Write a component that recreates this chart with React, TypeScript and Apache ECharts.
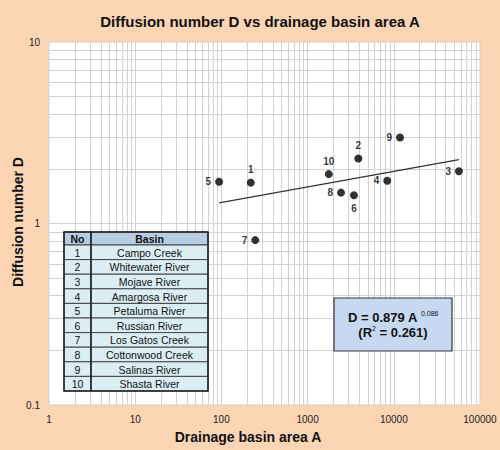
import React, { useEffect, useRef } from "react";
import * as echarts from "echarts";

const basinNo = [1, 2, 3, 4, 5, 6, 7, 8, 9, 10];
const basinNames = [
  "Campo Creek",
  "Whitewater River",
  "Mojave River",
  "Amargosa River",
  "Petaluma River",
  "Russian River",
  "Los Gatos Creek",
  "Cottonwood Creek",
  "Salinas River",
  "Shasta River",
];
const areaA = [219, 3875, 57000, 8400, 94, 3450, 247, 2440, 11800, 1760];
const diffD = [1.68, 2.28, 1.94, 1.72, 1.7, 1.43, 0.81, 1.48, 2.98, 1.87];
const labelPos = ["top", "top", "left", "left", "left", "bottom", "left", "left", "left", "top"];
const trendA = [94, 57000];
const trendD = [1.3, 2.25];
const xTickLabels = ["1", "10", "100", "1000", "10000", "100000"];
const yTickLabels = ["0.1", "1", "10"];

const FONT = "Liberation Sans, Arial, Helvetica, sans-serif";

export default function App() {
  const ref = useRef<HTMLDivElement>(null);
  useEffect(() => {
    document.body.style.margin = "0";
    const chart = echarts.init(ref.current!, null, { renderer: "svg" });

    const vLines: any[] = [];
    for (let d = 0; d < 5; d++) {
      for (let m = 2; m <= 9; m++) vLines.push({ xAxis: m * Math.pow(10, d) });
      if (d > 0) vLines.push({ xAxis: Math.pow(10, d) });
    }
    const hLines: any[] = [];
    for (let d = -1; d < 1; d++) {
      for (let m = 2; m <= 9; m++) hLines.push({ yAxis: +(m * Math.pow(10, d)).toFixed(4) });
    }
    hLines.push({ yAxis: 1 });

    const tableLeft = 64;
    const colW = [27, 117];
    const tableTop = 232;
    const headH = 13;
    const rowH = 14.6;
    const Z = 50;
    const table: any[] = [];
    table.push({
      type: "rect",
      z: Z,
      shape: { x: tableLeft, y: tableTop, width: colW[0], height: headH },
      style: { fill: "#b8cce4", stroke: "#333", lineWidth: 1 },
    });
    table.push({
      type: "rect",
      z: Z,
      shape: { x: tableLeft + colW[0], y: tableTop, width: colW[1], height: headH },
      style: { fill: "#b8cce4", stroke: "#333", lineWidth: 1 },
    });
    table.push({
      type: "text",
      z: Z + 2,
      x: tableLeft + colW[0] / 2,
      y: tableTop + headH / 2 + 0.5,
      style: { text: "No", font: `bold 10.5px ${FONT}`, fill: "#111", align: "center", verticalAlign: "middle" },
    });
    table.push({
      type: "text",
      z: Z + 2,
      x: tableLeft + colW[0] + colW[1] / 2,
      y: tableTop + headH / 2 + 0.5,
      style: { text: "Basin", font: `bold 10.5px ${FONT}`, fill: "#111", align: "center", verticalAlign: "middle" },
    });
    basinNames.forEach((name, i) => {
      const y = tableTop + headH + i * rowH;
      table.push({
        type: "rect",
        z: Z,
        shape: { x: tableLeft, y, width: colW[0], height: rowH },
        style: { fill: "#daeef3", stroke: "#444", lineWidth: 1 },
      });
      table.push({
        type: "rect",
        z: Z,
        shape: { x: tableLeft + colW[0], y, width: colW[1], height: rowH },
        style: { fill: "#daeef3", stroke: "#444", lineWidth: 1 },
      });
      table.push({
        type: "text",
        z: Z + 2,
        x: tableLeft + colW[0] / 2,
        y: y + rowH / 2 + 0.5,
        style: { text: String(basinNo[i]), font: `10.5px ${FONT}`, fill: "#111", align: "center", verticalAlign: "middle" },
      });
      table.push({
        type: "text",
        z: Z + 2,
        x: tableLeft + colW[0] + colW[1] / 2,
        y: y + rowH / 2 + 0.5,
        style: { text: name, font: `10.5px ${FONT}`, fill: "#111", align: "center", verticalAlign: "middle" },
      });
    });
    const tableH = headH + basinNames.length * rowH;
    table.push({
      type: "rect",
      z: Z + 1,
      shape: { x: tableLeft, y: tableTop, width: colW[0] + colW[1], height: tableH },
      style: { fill: "none", stroke: "#222", lineWidth: 1.5 },
    });
    table.push({
      type: "line",
      z: Z + 1,
      shape: { x1: tableLeft + colW[0], y1: tableTop, x2: tableLeft + colW[0], y2: tableTop + tableH },
      style: { stroke: "#222", lineWidth: 1.5 },
    });

    chart.setOption({
      animation: false,
      backgroundColor: "#fcd5b5",
      textStyle: { fontFamily: FONT },
      grid: {
        left: 49,
        right: 20,
        top: 42,
        bottom: 45,
        show: true,
        backgroundColor: "#ffffff",
        borderColor: "#cfcfcf",
        borderWidth: 1,
      },
      xAxis: {
        type: "log",
        logBase: 10,
        min: 1,
        max: 100000,
        axisLine: { show: false },
        axisTick: { show: false },
        splitLine: { show: false },
        axisLabel: {
          margin: 9,
          fontSize: 10,
          color: "#222",
          formatter: (_v: number, i: number) => xTickLabels[i] ?? "",
        },
      },
      yAxis: {
        type: "log",
        logBase: 10,
        min: 0.1,
        max: 10,
        axisLine: { show: false },
        axisTick: { show: false },
        splitLine: { show: false },
        axisLabel: {
          margin: 9,
          fontSize: 10,
          color: "#222",
          formatter: (_v: number, i: number) => yTickLabels[i] ?? "",
        },
      },
      series: [
        {
          type: "line",
          data: [],
          z: 0,
          zlevel: 0,
          silent: true,
          markLine: {
            silent: true,
            z: 0,
            symbol: ["none", "none"],
            label: { show: false },
            lineStyle: { color: "#d2d2d2", width: 1, type: "solid" },
            data: [...vLines, ...hLines],
          },
        },
        {
          type: "line",
          data: trendA.map((a, i) => [a, trendD[i]]),
          showSymbol: false,
          symbol: "none",
          z: 20,
          lineStyle: { color: "#333", width: 1.2 },
        },
        {
          type: "scatter",
          z: 30,
          symbolSize: 8,
          itemStyle: { color: "#000" },
          data: areaA.map((a, i) => ({
            value: [a, diffD[i]],
            label: { position: labelPos[i] },
          })),
          label: {
            show: true,
            distance: 4,
            fontSize: 10,
            fontWeight: "bold",
            color: "#000",
            formatter: (p: any) => String(basinNo[p.dataIndex]),
          },
        },
      ],
      graphic: [
        {
          type: "text",
          x: 260,
          y: 21,
          style: {
            text: "Diffusion number D vs drainage basin area A",
            font: `bold 15px ${FONT}`,
            fill: "#111",
            align: "center",
            verticalAlign: "middle",
          },
        },
        {
          type: "text",
          x: 248,
          y: 437,
          style: {
            text: "Drainage basin area A",
            font: `bold 14px ${FONT}`,
            fill: "#111",
            align: "center",
            verticalAlign: "middle",
          },
        },
        {
          type: "text",
          x: 18,
          y: 222,
          rotation: Math.PI / 2,
          style: {
            text: "Diffusion number D",
            font: `bold 14px ${FONT}`,
            fill: "#111",
            align: "center",
            verticalAlign: "middle",
          },
        },
        ...table,
        {
          type: "rect",
          z: Z,
          shape: { x: 334, y: 298, width: 118, height: 53 },
          style: { fill: "#c6d9f1", stroke: "#333", lineWidth: 1.2 },
        },
        {
          type: "text",
          z: Z + 2,
          x: 393,
          y: 325,
          style: {
            text: "{b|D = 0.879 A }{s|0.086}\n{b|(R}{s|2}{b| = 0.261)}",
            align: "center",
            verticalAlign: "middle",
            rich: {
              b: { font: `bold 13px ${FONT}`, fill: "#111", lineHeight: 15 },
              s: { font: `7px ${FONT}`, fill: "#111", verticalAlign: "top", lineHeight: 15 },
            },
          },
        },
      ],
    });
    return () => chart.dispose();
  }, []);
  return <div ref={ref} style={{ width: 500, height: 450 }} />;
}
